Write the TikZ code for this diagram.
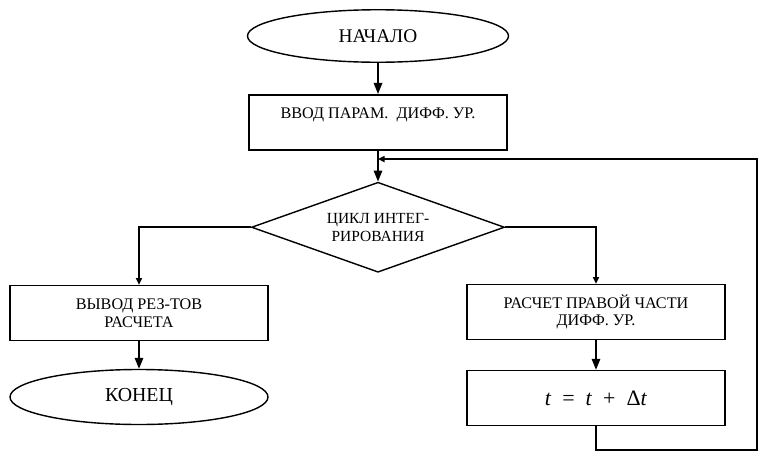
\documentclass[tikz,border=0pt]{standalone}
\usepackage{fontspec}
\setmainfont{Liberation Serif}
\usetikzlibrary{shapes.geometric,arrows.meta,positioning}

\newcommand{\gap}{\hspace{0.5em}}

\begin{document}
\begin{tikzpicture}[
    x=0.2mm,y=-0.2mm,
    node distance=6.2mm,
    term/.style={draw,ellipse,line width=0.8pt,minimum width=5.22cm,minimum height=1.05cm,inner sep=0pt,font=\fontsize{11}{12}\selectfont},
    blk/.style={draw,rectangle,line width=0.9pt,minimum width=5.16cm,minimum height=1.1cm,align=center,font=\fontsize{9.2}{10}\selectfont},
    cond/.style={draw,diamond,aspect=2.8,line width=0.8pt,minimum width=5.06cm,minimum height=1.8cm,inner sep=0pt,align=center,font=\fontsize{8.8}{10}\selectfont},
    line/.style={line width=0.9pt},
    arrow/.style={line,-{Triangle[length=2.2mm,width=1.7mm]}},
    tip/.style={line,-{Triangle[length=1.3mm,width=1.2mm]}}
  ]
    \useasboundingbox (0,0) rectangle (759,455);

    % main column
    \node[term] (start) at (378,36) {НАЧАЛО};
    \node[blk,below=of start] (input) {ВВОД ПАРАМ.\ \ ДИФФ. УР.\\\mbox{}};
    \node[cond,below=of input] (cycle) {ЦИКЛ ИНТЕГ-\\РИРОВАНИЯ};
    \coordinate[below=1.7mm of input.south] (join);

    % left branch
    \node[blk] (output) at (139,313) {ВЫВОД РЕЗ-ТОВ\\РАСЧЕТА};
    \node[term,below=5.5mm of output,minimum width=5.16cm,minimum height=1.1cm,font=\fontsize{11.3}{13}\selectfont] (stop) {КОНЕЦ};

    % right branch
    \node[blk] (rhs) at (596,312) {РАСЧЕТ ПРАВОЙ ЧАСТИ\\ДИФФ. УР.};
    \node[blk,below=5.9mm of rhs,font=\fontsize{12.5}{13}\selectfont] (tstep) {\textit{t}\gap=\gap\textit{t}\gap+\gap Δ\textit{t}};
    \coordinate (back) at (757,450);

    \draw[arrow] (start) -- (input);
    \draw[arrow] (input) -- (cycle);
    \draw[tip] (cycle.west) -| (output);
    \draw[tip] (cycle.east) -| (rhs);
    \draw[arrow] (output) -- (stop);
    \draw[arrow] (rhs) -- (tstep);
    \draw[tip] (tstep) |- (back) |- (join);
\end{tikzpicture}
\end{document}
